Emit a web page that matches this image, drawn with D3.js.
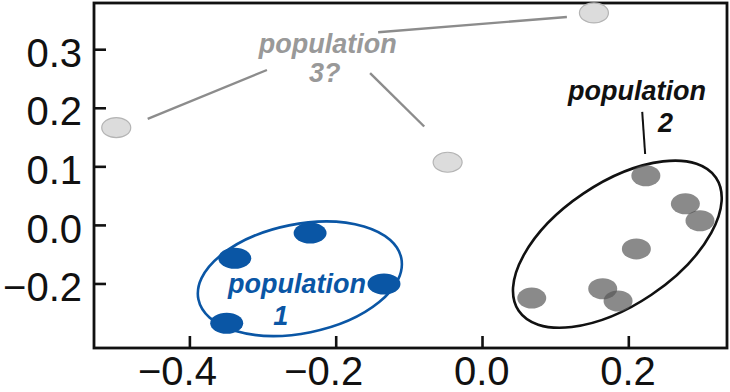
<!DOCTYPE html>
<html><head><meta charset="utf-8">
<script src="https://cdn.jsdelivr.net/npm/d3@7"></script>
<style>body{margin:0;background:#fff}svg{display:block}</style>
</head><body>
<svg id="chart" width="730" height="392"></svg>
<script>
// ---- data ----
const pop1X = [-0.235, -0.338, -0.349, -0.134];
const pop1Y = [-0.014, -0.057, -0.168, -0.101];
const pop2X = [0.224, 0.278, 0.298, 0.211, 0.165, 0.186, 0.068];
const pop2Y = [0.084, 0.036, 0.007, -0.041, -0.109, -0.130, -0.125];
const pop3X = [-0.500, 0.153, -0.047];
const pop3Y = [0.166, 0.362, 0.107];
const xTickValues = [-0.4, -0.2, 0.0, 0.2];
const xTickLabels = ["−0.4", "−0.2", "0.0", "0.2"];
const yTickValues = [0.3, 0.2, 0.1, 0.0, -0.1];
const yTickLabels = ["0.3", "0.2", "0.1", "0.0", "−0.2"];
// group labels (text, anchor x, anchor y in data units, group)
const labelText  = ["population", "1", "population", "2", "population", "3?"];
const labelX     = [-0.253, -0.275, 0.212, 0.251, -0.211, -0.215];
const labelY     = [-0.116, -0.171, 0.213, 0.159, 0.2935, 0.244];
const labelGroup = [1, 1, 2, 2, 3, 3];
// leader lines (data units)
const leadX1 = [-0.457, -0.142, -0.153, 0.219];
const leadY1 = [0.181, 0.329, 0.259, 0.193];
const leadX2 = [-0.294, 0.116, -0.079, 0.223];
const leadY2 = [0.2645, 0.355, 0.168, 0.121];
const leadGroup = [3, 3, 3, 2];
// group outlines: centre (data units)
const hullX = [-0.249, 0.185];
const hullY = [-0.092, -0.033];
const hullGroup = [1, 2];

// ---- styles ----
const colors = {1: "#0a56a5", 2: "#111111", 3: "#999999"};
const lineColors = {1: "#0a56a5", 2: "#111111", 3: "#8c8c8c"};
const hullStyle = {1: {rx: 103.5, ry: 54.5, rot: -11.4}, 2: {rx: 119, ry: 61, rot: -34}};
const font = "'Liberation Sans', Arial, Helvetica, sans-serif";

const svg = d3.select("#chart");
const x = d3.scaleLinear().domain([-0.5304, 0.3349]).range([94, 727]);
const y = d3.scaleLinear().domain([-0.2102, 0.3789]).range([348, 3]);

// axes
const gx = svg.append("g").attr("transform", `translate(0,${y.range()[0]})`)
  .call(d3.axisBottom(x).tickValues(xTickValues).tickFormat((d, i) => xTickLabels[i])
    .tickSizeInner(-12).tickSizeOuter(0).tickPadding(9));
gx.select(".domain").remove();
gx.selectAll(".tick line").attr("stroke", "#111").attr("stroke-width", 2.6);
gx.selectAll(".tick text").attr("font-family", font).attr("font-size", 40)
  .attr("fill", "#111").attr("text-anchor", "end").attr("x", 27);

const gy = svg.append("g").attr("transform", `translate(${x.range()[0]},0)`)
  .call(d3.axisLeft(y).tickValues(yTickValues).tickFormat((d, i) => yTickLabels[i])
    .tickSizeInner(-12).tickSizeOuter(0).tickPadding(12));
gy.select(".domain").remove();
gy.selectAll(".tick line").attr("stroke", "#111").attr("stroke-width", 2.6);
gy.selectAll(".tick text").attr("font-family", font).attr("font-size", 40)
  .attr("fill", "#111").attr("dy", "0.43em");

// frame
svg.append("rect")
  .attr("x", x.range()[0]).attr("y", y.range()[1])
  .attr("width", x.range()[1] - x.range()[0]).attr("height", y.range()[0] - y.range()[1])
  .attr("fill", "none").attr("stroke", "#111").attr("stroke-width", 2.8);

// group outlines
svg.append("g").selectAll("ellipse").data(hullX.map((d, i) => i)).join("ellipse")
  .attr("transform", i => `translate(${x(hullX[i])},${y(hullY[i])}) rotate(${hullStyle[hullGroup[i]].rot})`)
  .attr("rx", i => hullStyle[hullGroup[i]].rx).attr("ry", i => hullStyle[hullGroup[i]].ry)
  .attr("fill", "none").attr("stroke", i => lineColors[hullGroup[i]]).attr("stroke-width", 2.6);

// leader lines
svg.append("g").selectAll("line").data(leadX1.map((d, i) => i)).join("line")
  .attr("x1", i => x(leadX1[i])).attr("y1", i => y(leadY1[i]))
  .attr("x2", i => x(leadX2[i])).attr("y2", i => y(leadY2[i]))
  .attr("stroke", i => lineColors[leadGroup[i]]).attr("stroke-width", i => leadGroup[i] === 3 ? 2.4 : 2);

// points
svg.append("g").selectAll("ellipse").data(pop3X.map((d, i) => i)).join("ellipse")
  .attr("cx", i => x(pop3X[i])).attr("cy", i => y(pop3Y[i]))
  .attr("rx", 14.5).attr("ry", 10).attr("fill", "#dcdcdc").attr("stroke", "#b4b4b4").attr("stroke-width", 1.2);
svg.append("g").selectAll("ellipse").data(pop2X.map((d, i) => i)).join("ellipse")
  .attr("cx", i => x(pop2X[i])).attr("cy", i => y(pop2Y[i]))
  .attr("rx", 14.5).attr("ry", 10.5).attr("fill", "#565656").attr("fill-opacity", 0.69);
svg.append("g").selectAll("ellipse").data(pop1X.map((d, i) => i)).join("ellipse")
  .attr("cx", i => x(pop1X[i])).attr("cy", i => y(pop1Y[i]))
  .attr("rx", 16.5).attr("ry", 10.5).attr("fill", colors[1]);

// labels
svg.append("g").selectAll("text").data(labelText.map((d, i) => i)).join("text")
  .attr("x", i => x(labelX[i])).attr("y", i => y(labelY[i]))
  .attr("text-anchor", "middle")
  .attr("font-family", font).attr("font-size", 27).attr("font-weight", "bold").attr("font-style", "italic")
  .attr("fill", i => colors[labelGroup[i]])
  .text(i => labelText[i]);
</script>
</body></html>
